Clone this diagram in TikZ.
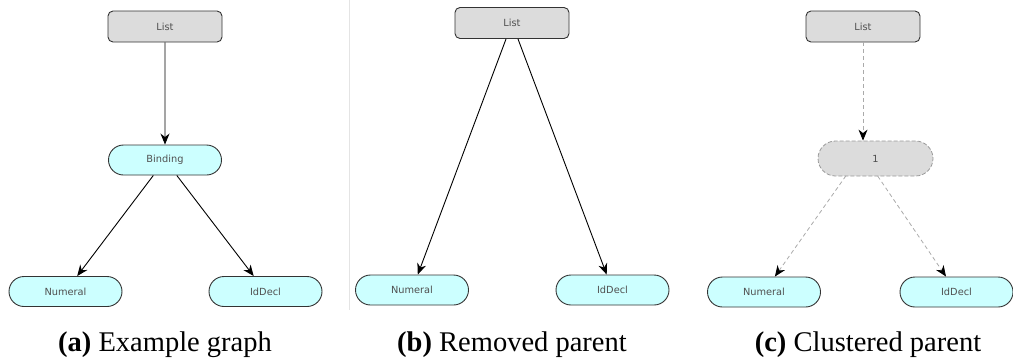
\documentclass[tikz,border=0pt]{standalone}
\usepackage{fontspec}
\setmainfont{Liberation Serif}
\newfontfamily\nodefont{DejaVu Sans}
\usetikzlibrary{arrows.meta,shapes.misc}
\definecolor{boxgray}{HTML}{DCDCDC}
\definecolor{leafcyan}{HTML}{CCFFFF}
\definecolor{borderdark}{HTML}{333333}
\definecolor{labelgray}{HTML}{505050}
\definecolor{dashgray}{HTML}{AAAAAA}
\definecolor{clustergray}{HTML}{999999}
\definecolor{sepgray}{HTML}{E4E4E4}
\tikzset{
  nodetext/.style={font=\nodefont\fontsize{9.8}{11}\selectfont, text=labelgray},
  listbox/.style={nodetext, rectangle, rounded corners=5pt, fill=boxgray,
    draw=borderdark, line width=0.9pt, minimum width=114pt, minimum height=31pt,
    inner sep=0pt},
  leaf/.style={nodetext, rounded rectangle, fill=leafcyan, draw=borderdark,
    line width=0.9pt, minimum width=113pt, minimum height=30pt, inner sep=0pt},
  clusterbox/.style={nodetext, rounded rectangle, fill=boxgray, draw=clustergray,
    line width=0.8pt, dash pattern=on 4pt off 2pt, minimum width=115pt,
    minimum height=35pt, inner sep=0pt},
  edge/.style={line width=0.9pt, black,
    -{Stealth[length=11pt,width=9pt,inset=3.5pt]}},
  dashedge/.style={line width=0.8pt, dashgray, dash pattern=on 4pt off 3pt,
    -{Stealth[length=11pt,width=9pt,inset=3.5pt,black]}},
  caption/.style={font=\fontsize{28.5}{32}\selectfont, anchor=base},
}
\begin{document}
\begin{tikzpicture}[x=1pt,y=-1pt]
  \useasboundingbox (0,0) rectangle (1013,360);

  % divider between the first two panels
  \draw[sepgray, line width=0.8pt] (349,0) -- (349,310);

  % (a) example graph
  \node[listbox] (la) at (165,26.5) {List};
  \node[leaf] (ba) at (165,160) {Binding};
  \node[leaf] (na) at (65.5,291.5) {Numeral};
  \node[leaf] (ia) at (265.5,291.5) {IdDecl};
  \draw[edge] (la) -- (ba);
  \draw[edge] (ba) -- (na);
  \draw[edge] (ba) -- (ia);
  \node[caption] (capa) at (165,351) {\textbf{(a)} Example graph};

  % (b) parent removed
  \node[listbox] (lb) at (512,23) {List};
  \node[leaf] (nb) at (412,290) {Numeral};
  \node[leaf] (ib) at (612.5,290) {IdDecl};
  \draw[edge] (lb) -- (nb);
  \draw[edge] (lb) -- (ib);
  \node[caption] (capb) at (512,351) {\textbf{(b)} Removed parent};

  % (c) parent clustered
  \node[listbox] (lc) at (863,26.5) {List};
  \node[clusterbox] (cc) at (875.5,158.5) {1};
  \node[leaf] (nc) at (764,292) {Numeral};
  \node[leaf] (ic) at (956.5,292) {IdDecl};
  \coordinate (ccsrc) at (862,153);
  \draw[dashedge] (lc.south) -- (lc.south |- cc.north);
  \draw[dashedge, shorten <=28pt] (ccsrc) -- (nc);
  \draw[dashedge, shorten <=28pt] (ccsrc) -- (ic);
  \node[caption] (capc) at (868,351) {\textbf{(c)} Clustered parent};
\end{tikzpicture}
\end{document}
